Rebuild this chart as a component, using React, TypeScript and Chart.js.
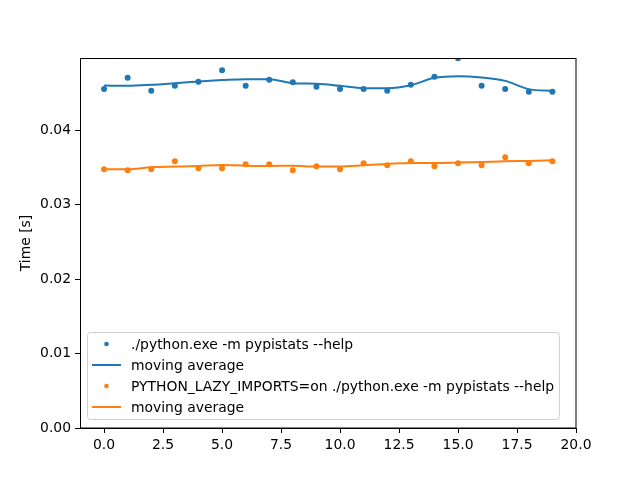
import React, { useEffect, useRef } from "react";
import { Chart, registerables } from "chart.js";

Chart.register(...registerables);

const xValues = [0, 1, 2, 3, 4, 5, 6, 7, 8, 9, 10, 11, 12, 13, 14, 15, 16, 17, 18, 19];

const normalTimes = [
  0.04552, 0.04704, 0.04529, 0.04596, 0.0465, 0.04807, 0.04596, 0.04677, 0.04645, 0.04583,
  0.04552, 0.04552, 0.04529, 0.0461, 0.04717, 0.04966, 0.04596, 0.04552, 0.04515, 0.04515,
];
const normalAvg = [
  0.046, 0.04596, 0.0461, 0.04632, 0.04655, 0.04673, 0.04686, 0.04686, 0.04632, 0.04623,
  0.04596, 0.04565, 0.04565, 0.04605, 0.04704, 0.04726, 0.04708, 0.04663, 0.04552, 0.04529,
];
const lazyTimes = [
  0.03475, 0.03461, 0.03475, 0.03583, 0.03488, 0.03488, 0.03542, 0.03542, 0.03461, 0.03515,
  0.03475, 0.03556, 0.03529, 0.03583, 0.03515, 0.03556, 0.03529, 0.03637, 0.03556, 0.03583,
];
const lazyAvg = [
  0.03475, 0.03475, 0.03502, 0.03511, 0.0352, 0.03533, 0.03524, 0.0352, 0.03524, 0.03511,
  0.03511, 0.03529, 0.03547, 0.0356, 0.0356, 0.03565, 0.03573, 0.03583, 0.03587, 0.03596,
];

const seriesLabels = [
  "./python.exe -m pypistats --help",
  "moving average",
  "PYTHON_LAZY_IMPORTS=on ./python.exe -m pypistats --help",
  "moving average",
];

const BLUE = "#1f77b4";
const ORANGE = "#ff7f0e";
const FONT = "DejaVu Sans";
const FS = 13.9;

const toPoints = (ys: number[]) => ys.map((y, i) => ({ x: xValues[i], y }));

const framePlugin = {
  id: "frame",
  afterDraw(chart: any) {
    const { ctx, chartArea } = chart;
    const { left, top, right, bottom } = chartArea;
    ctx.save();
    ctx.strokeStyle = "#000";
    ctx.lineWidth = 1;
    ctx.strokeRect(left + 0.5, top + 0.5, right - left - 0.5, bottom - top - 0.5);

    // legend (matplotlib-style, inside axes, lower left)
    const bx = 87.5, by = 332.5, bw = 472, bh = 87;
    const r = 3;
    ctx.beginPath();
    ctx.moveTo(bx + r, by);
    ctx.lineTo(bx + bw - r, by);
    ctx.quadraticCurveTo(bx + bw, by, bx + bw, by + r);
    ctx.lineTo(bx + bw, by + bh - r);
    ctx.quadraticCurveTo(bx + bw, by + bh, bx + bw - r, by + bh);
    ctx.lineTo(bx + r, by + bh);
    ctx.quadraticCurveTo(bx, by + bh, bx, by + bh - r);
    ctx.lineTo(bx, by + r);
    ctx.quadraticCurveTo(bx, by, bx + r, by);
    ctx.closePath();
    ctx.fillStyle = "rgba(255,255,255,0.8)";
    ctx.fill();
    ctx.strokeStyle = "#d0d0d0";
    ctx.stroke();

    const datasets = chart.data.datasets;
    ctx.font = `${FS}px "${FONT}"`;
    ctx.textBaseline = "middle";
    ctx.textAlign = "left";
    datasets.forEach((ds: any, i: number) => {
      const cy = 344 + i * 21;
      if (ds.showLine) {
        ctx.strokeStyle = ds.borderColor;
        ctx.lineWidth = 2;
        ctx.beginPath();
        ctx.moveTo(92, cy);
        ctx.lineTo(121, cy);
        ctx.stroke();
      } else {
        ctx.fillStyle = ds.backgroundColor;
        ctx.beginPath();
        ctx.arc(106.5, cy, 2.3, 0, Math.PI * 2);
        ctx.fill();
      }
      ctx.fillStyle = "#000";
      ctx.fillText(ds.label, 131, cy + 1);
    });
    ctx.restore();
  },
};

export default function App() {
  const ref = useRef<HTMLCanvasElement | null>(null);

  useEffect(() => {
    if (!ref.current) return;
    Chart.defaults.font.family = FONT;
    Chart.defaults.font.size = FS;
    Chart.defaults.color = "#000";
    const chart = new Chart(ref.current, {
      type: "scatter",
      data: {
        datasets: [
          {
            label: seriesLabels[0],
            data: toPoints(normalTimes),
            backgroundColor: BLUE,
            borderColor: BLUE,
            pointRadius: 3,
            pointBorderWidth: 0,
            showLine: false,
            clip: 0,
            order: 4,
          },
          {
            label: seriesLabels[1],
            data: toPoints(normalAvg),
            borderColor: BLUE,
            backgroundColor: BLUE,
            borderWidth: 2,
            pointRadius: 0,
            showLine: true,
            cubicInterpolationMode: "monotone",
            clip: 0,
            order: 3,
          },
          {
            label: seriesLabels[2],
            data: toPoints(lazyTimes),
            backgroundColor: ORANGE,
            borderColor: ORANGE,
            pointRadius: 3,
            pointBorderWidth: 0,
            showLine: false,
            clip: 0,
            order: 2,
          },
          {
            label: seriesLabels[3],
            data: toPoints(lazyAvg),
            borderColor: ORANGE,
            backgroundColor: ORANGE,
            borderWidth: 2,
            pointRadius: 0,
            showLine: true,
            cubicInterpolationMode: "monotone",
            clip: 0,
            order: 1,
          },
        ],
      },
      options: {
        animation: false,
        responsive: false,
        devicePixelRatio: 1,
        layout: { padding: { left: 0, top: 58, right: 64, bottom: 0 } },
        plugins: { legend: { display: false }, tooltip: { enabled: false } },
        scales: {
          x: {
            type: "linear",
            min: -1.02,
            max: 20,
            afterFit: (s: any) => {
              s.height = 52;
            },
            border: { display: true, color: "#000", width: 1 },
            grid: {
              drawOnChartArea: false,
              drawTicks: true,
              tickLength: 5,
              tickColor: "#000",
              tickWidth: 1,
            },
            ticks: {
              stepSize: 2.5,
              includeBounds: false,
              autoSkip: false,
              maxRotation: 0,
              padding: 4,
              color: "#000",
              font: { size: FS, family: FONT },
              callback: (v: any) => Number(v).toFixed(1),
            },
          },
          y: {
            type: "linear",
            min: 0,
            max: 0.0497,
            afterFit: (s: any) => {
              s.width = 80;
            },
            border: { display: true, color: "#000", width: 1 },
            grid: {
              drawOnChartArea: false,
              drawTicks: true,
              tickLength: 5,
              tickColor: "#000",
              tickWidth: 1,
            },
            ticks: {
              stepSize: 0.01,
              includeBounds: false,
              autoSkip: false,
              padding: 4,
              color: "#000",
              font: { size: FS, family: FONT },
              callback: (v: any) => Number(v).toFixed(2),
            },
            title: {
              display: true,
              text: "Time [s]",
              color: "#000",
              font: { size: FS, family: FONT },
              padding: { top: 18, bottom: 0 },
            },
          },
        },
      },
      plugins: [framePlugin],
    });
    return () => chart.destroy();
  }, []);

  return (
    <div style={{ position: "fixed", left: 0, top: 0, width: 640, height: 480, background: "#fff" }}>
      <canvas ref={ref} width={640} height={480} style={{ width: 640, height: 480 }} />
    </div>
  );
}
